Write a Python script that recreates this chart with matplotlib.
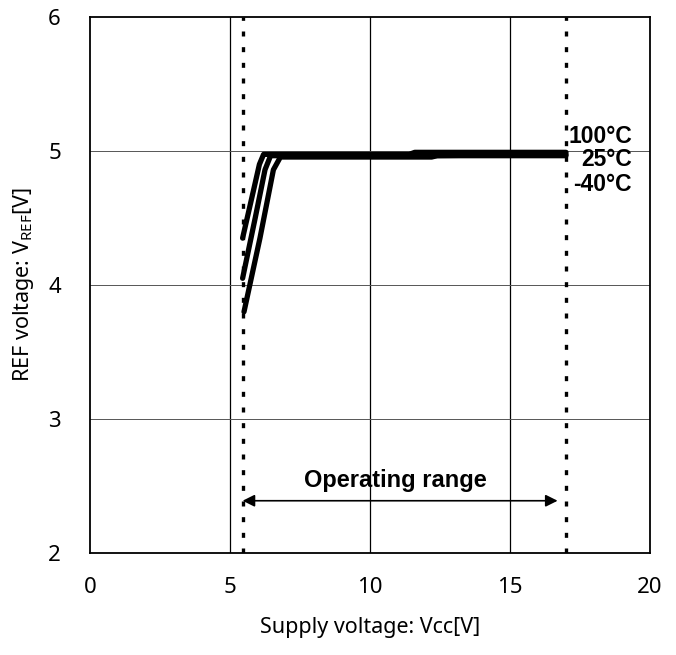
import matplotlib
matplotlib.use("Agg")
import matplotlib.pyplot as plt

# supply voltage [V] vs REF voltage [V]
vcc_100 = [5.45, 5.8, 6.05, 6.2, 7.0, 11.4, 11.6, 17.0]
ref_100 = [4.35, 4.67, 4.90, 4.975, 4.975, 4.975, 4.99, 4.99]
vcc_25 = [5.45, 5.9, 6.25, 6.45, 7.0, 12.0, 17.0]
ref_25 = [4.05, 4.50, 4.86, 4.965, 4.965, 4.965, 4.975]
vcc_m40 = [5.5, 6.07, 6.55, 6.8, 7.5, 12.2, 12.4, 17.0]
ref_m40 = [3.80, 4.35, 4.86, 4.955, 4.955, 4.955, 4.965, 4.965]

range_lo = 5.45
range_hi = 17.0
arrow_hi = 16.7

xticks = [0, 5, 10, 15, 20]
yticks = [2, 3, 4, 5, 6]

plt.rcParams['font.family'] = ['Noto Sans', 'DejaVu Sans']
plt.rcParams['mathtext.fontset'] = 'custom'
plt.rcParams['mathtext.rm'] = 'Noto Sans'

fig = plt.figure(figsize=(6.76, 6.55), dpi=100)
ax = fig.add_axes([90 / 676, 1 - 553 / 655, 560 / 676, 536 / 655])

ax.set_xlim(0, 20)
ax.set_ylim(2, 6)
ax.set_xticks(xticks)
ax.set_yticks(yticks)
ax.tick_params(length=0, labelsize=16)
ax.tick_params(axis='x', pad=17)
ax.tick_params(axis='y', pad=21)

for x in [5, 10, 15]:
    ax.axvline(x, color='black', lw=0.9, zorder=1)
for y in [3, 4, 5]:
    ax.axhline(y, color='#555555', lw=0.7, zorder=1)

for s in ax.spines.values():
    s.set_linewidth(1.3)

for vx in [range_lo, range_hi]:
    ax.axvline(vx, color='black', lw=2.4, dashes=(1.5, 3.2), zorder=3)

for xs, ys in [(vcc_m40, ref_m40), (vcc_25, ref_25), (vcc_100, ref_100)]:
    ax.plot(xs, ys, color='black', lw=3.8, solid_capstyle='round', zorder=4)

ax.annotate('', xy=(range_lo, 2.39), xytext=(arrow_hi, 2.39),
            arrowprops=dict(arrowstyle='<|-|>', color='black', lw=1.2,
                            mutation_scale=18, shrinkA=0, shrinkB=0))
ax.text(10.9, 2.54, 'Operating range', ha='center', va='center',
        fontsize=17, fontweight='bold', family='Liberation Sans')

for label, yv in [('100°C', 5.11), ('25°C', 4.94), ('-40°C', 4.75)]:
    ax.text(19.35, yv, label, ha='right', va='center', fontsize=16.5,
            fontweight='bold', family='Liberation Sans', zorder=5)

ax.set_xlabel('Supply voltage: Vcc[V]', fontsize=15.5, labelpad=14)
ax.set_ylabel(r'REF voltage: V$_{\mathrm{REF}}$[V]', fontsize=15.5, labelpad=9)

fig.savefig('out.png', dpi=100)
